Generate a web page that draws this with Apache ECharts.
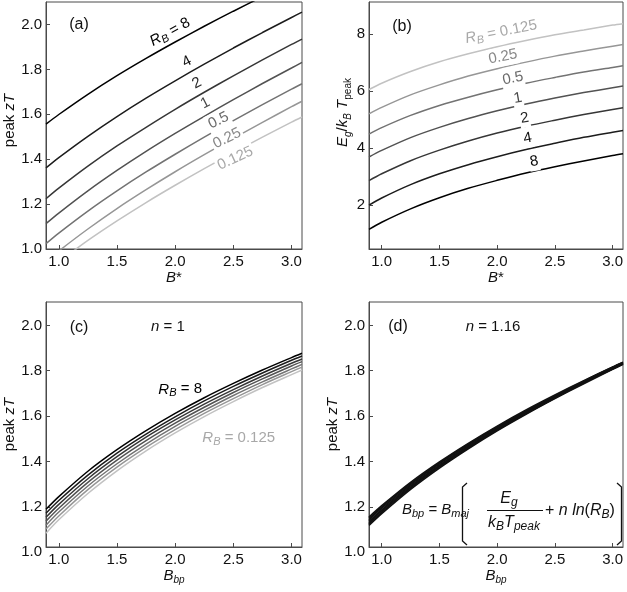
<!DOCTYPE html>
<html><head><meta charset="utf-8">
<script src="https://cdn.jsdelivr.net/npm/echarts@6/dist/echarts.min.js"></script>
<style>html,body{margin:0;padding:0;background:#fff}#c{width:627px;height:592px}</style>
</head><body><div id="c"></div>
<script>
// ---- data ----
const xB = [0.89, 1.0, 1.25, 1.5, 1.75, 2.0, 2.25, 2.5, 2.75, 3.0, 3.09];
const rbNames = ['8', '4', '2', '1', '0.5', '0.25', '0.125'];
const xTicks = [1.0, 1.5, 2.0, 2.5, 3.0];
const zTTicks = [1.0, 1.2, 1.4, 1.6, 1.8, 2.0];
const zTTicksCD = [1.2, 1.4, 1.6, 1.8, 2.0];
const egTicks = [2, 4, 6, 8];

// (a) peak zT vs B*
const a_rb8    = [1.556, 1.599, 1.689, 1.772, 1.849, 1.922, 1.992, 2.059, 2.124, 2.188, 2.210];
const a_rb4    = [1.361, 1.407, 1.502, 1.590, 1.672, 1.749, 1.823, 1.895, 1.964, 2.031, 2.055];
const a_rb2    = [1.224, 1.271, 1.369, 1.459, 1.542, 1.622, 1.698, 1.771, 1.842, 1.911, 1.935];
const a_rb1    = [1.113, 1.160, 1.259, 1.350, 1.435, 1.515, 1.591, 1.665, 1.737, 1.806, 1.831];
const a_rb05   = [1.024, 1.071, 1.169, 1.259, 1.343, 1.422, 1.498, 1.572, 1.643, 1.712, 1.736];
const a_rb025  = [0.944, 0.991, 1.089, 1.180, 1.264, 1.344, 1.420, 1.493, 1.564, 1.634, 1.658];
const a_rb0125 = [0.897, 0.942, 1.038, 1.125, 1.207, 1.284, 1.358, 1.429, 1.498, 1.565, 1.588];

// (b) Eg/kBTpeak vs B*
const b_rb8    = [1.14, 1.39, 1.86, 2.25, 2.58, 2.86, 3.12, 3.34, 3.54, 3.73, 3.79];
const b_rb4    = [1.99, 2.24, 2.71, 3.09, 3.41, 3.69, 3.94, 4.16, 4.37, 4.55, 4.61];
const b_rb2    = [2.85, 3.09, 3.55, 3.92, 4.24, 4.52, 4.76, 4.97, 5.17, 5.35, 5.41];
const b_rb1    = [3.68, 3.91, 4.36, 4.72, 5.03, 5.30, 5.54, 5.75, 5.94, 6.11, 6.17];
const b_rb05   = [4.48, 4.71, 5.14, 5.49, 5.78, 6.04, 6.27, 6.47, 6.66, 6.82, 6.88];
const b_rb025  = [5.19, 5.42, 5.86, 6.21, 6.52, 6.78, 7.01, 7.22, 7.40, 7.57, 7.63];
const b_rb0125 = [6.05, 6.27, 6.68, 7.02, 7.30, 7.55, 7.77, 7.97, 8.14, 8.31, 8.36];

// (c) peak zT vs Bbp, n = 1
const c_rb8    = [1.189, 1.245, 1.357, 1.452, 1.536, 1.612, 1.681, 1.744, 1.803, 1.858, 1.877];
const c_rb4    = [1.172, 1.228, 1.340, 1.437, 1.521, 1.597, 1.667, 1.731, 1.790, 1.846, 1.865];
const c_rb2    = [1.154, 1.211, 1.324, 1.421, 1.507, 1.583, 1.653, 1.717, 1.777, 1.833, 1.852];
const c_rb1    = [1.137, 1.194, 1.308, 1.406, 1.492, 1.569, 1.639, 1.704, 1.764, 1.821, 1.840];
const c_rb05   = [1.119, 1.177, 1.292, 1.390, 1.477, 1.555, 1.625, 1.691, 1.751, 1.808, 1.828];
const c_rb025  = [1.102, 1.160, 1.276, 1.375, 1.462, 1.540, 1.612, 1.677, 1.739, 1.796, 1.816];
const c_rb0125 = [1.084, 1.143, 1.259, 1.359, 1.447, 1.526, 1.598, 1.664, 1.726, 1.783, 1.803];

// (d) peak zT vs Bbp, n = 1.16
const d_rb8    = [1.155, 1.205, 1.308, 1.398, 1.480, 1.556, 1.627, 1.693, 1.756, 1.817, 1.838];
const d_rb4    = [1.149, 1.200, 1.303, 1.394, 1.476, 1.552, 1.623, 1.690, 1.754, 1.815, 1.836];
const d_rb2    = [1.143, 1.194, 1.298, 1.390, 1.473, 1.549, 1.621, 1.688, 1.752, 1.814, 1.835];
const d_rb1    = [1.136, 1.187, 1.292, 1.384, 1.468, 1.545, 1.617, 1.685, 1.750, 1.811, 1.833];
const d_rb05   = [1.130, 1.182, 1.287, 1.380, 1.464, 1.542, 1.614, 1.682, 1.747, 1.809, 1.831];
const d_rb025  = [1.124, 1.176, 1.282, 1.376, 1.460, 1.538, 1.611, 1.680, 1.746, 1.808, 1.830];
const d_rb0125 = [1.118, 1.170, 1.277, 1.371, 1.456, 1.535, 1.608, 1.677, 1.743, 1.806, 1.828];

// ---- styling ----
const FONT = '"Liberation Sans", Arial, Helvetica, sans-serif';
const shades = ['#000000', '#1c1c1c', '#363636', '#525252', '#737373', '#969696', '#c2c2c2'];
const labelShades = ['#000000', '#111111', '#2a2a2a', '#4a4a4a', '#6a6a6a', '#888888', '#a8a8a8'];
const AX = '#4a4a4a';
const rich = {
  r: {fontFamily: FONT, fontSize: 15, color: '#111', lineHeight: 19},
  i: {fontFamily: FONT, fontSize: 15, color: '#111', fontStyle: 'italic', lineHeight: 19},
  s: {fontFamily: FONT, fontSize: 10, color: '#111', fontStyle: 'italic', lineHeight: 10, verticalAlign: 'bottom'},
  sr: {fontFamily: FONT, fontSize: 10, color: '#111', lineHeight: 10, verticalAlign: 'bottom'}
};

const grids = [
  {left: 46, top: 2, width: 256, height: 247},
  {left: 369, top: 2, width: 254, height: 247},
  {left: 46, top: 302, width: 256, height: 245},
  {left: 369, top: 302, width: 254, height: 245}
].map(g => Object.assign(g, {show: true, borderColor: AX, borderWidth: 1, containLabel: false}));

function xAx(i, name, gap) {
  return {
    type: 'value', gridIndex: i, min: 0.89, max: 3.09,
    axisLine: {show: true, onZero: false, lineStyle: {color: AX, width: 1}},
    axisTick: {show: true, inside: true, length: 4, customValues: xTicks, lineStyle: {color: AX}},
    axisLabel: {customValues: xTicks, formatter: v => v.toFixed(1), color: '#111', fontSize: 15, fontFamily: FONT, margin: 5},
    splitLine: {show: false},
    name: name, nameLocation: 'middle', nameGap: gap,
    nameTextStyle: {rich: rich}
  };
}
function yAx(i, min, max, ticks, fmt, name, gap, shift) {
  return {
    type: 'value', gridIndex: i, min: min, max: max,
    axisLine: {show: true, onZero: false, lineStyle: {color: AX, width: 1}},
    axisTick: {show: true, inside: true, length: 4, customValues: ticks, lineStyle: {color: AX}},
    axisLabel: {customValues: ticks, formatter: fmt, color: '#111', fontSize: 15, fontFamily: FONT, margin: 4},
    splitLine: {show: false},
    name: name, nameLocation: 'middle', nameGap: gap,
    nameTextStyle: {rich: rich, padding: [0, 0, 0, shift]}
  };
}

const panels = [
  [a_rb8, a_rb4, a_rb2, a_rb1, a_rb05, a_rb025, a_rb0125],
  [b_rb8, b_rb4, b_rb2, b_rb1, b_rb05, b_rb025, b_rb0125],
  [c_rb8, c_rb4, c_rb2, c_rb1, c_rb05, c_rb025, c_rb0125],
  [d_rb8, d_rb4, d_rb2, d_rb1, d_rb05, d_rb025, d_rb0125]
];
const series = [];
panels.forEach((curves, p) => {
  curves.forEach((vals, k) => {
    series.push({
      type: 'line', name: 'RB=' + rbNames[k], xAxisIndex: p, yAxisIndex: p,
      data: xB.map((x, j) => [x, vals[j]]),
      showSymbol: false, smooth: 0.3, clip: true,
      lineStyle: {color: p === 3 ? '#111' : shades[k], width: p === 3 ? 1.6 : 1.5},
      z: 2 + (p === 1 ? k : 6 - k), silent: true
    });
  });
});

const f1 = v => v.toFixed(1);
const chart = echarts.init(document.getElementById('c'), null, {renderer: 'canvas'});
chart.setOption({
  animation: false,
  backgroundColor: '#fff',
  grid: grids,
  xAxis: [xAx(0, '{i|B}{r|*}', 19), xAx(1, '{i|B}{r|*}', 19), xAx(2, '{i|B}{s|bp}', 18), xAx(3, '{i|B}{s|bp}', 18)],
  yAxis: [
    yAx(0, 1.0, 2.1, zTTicks, f1, '{r|peak }{i|zT}', 27, 10),
    yAx(1, 0.45, 9.12, egTicks, v => String(v), '{i|E}{s|g}{r|/}{i|k}{s|B}{i| T}{sr|peak}', 15, 26),
    yAx(2, 1.023, 2.103, zTTicksCD, f1, '{r|peak }{i|zT}', 27, 0),
    yAx(3, 1.023, 2.103, zTTicksCD, f1, '{r|peak }{i|zT}', 27, 0)
  ],
  series: series
});

// ---- annotations ----
const g = [];
function px(p, x, y) { return chart.convertToPixel({gridIndex: p}, [x, y]); }
function txt(pos, text, opts) {
  g.push(Object.assign({
    type: 'text', x: pos[0], y: pos[1], silent: true, z: 50,
    style: Object.assign({text: text, fontFamily: FONT, fontSize: 15, fill: '#111', align: 'center', verticalAlign: 'middle'}, opts && opts.style || {})
  }, opts && opts.el || {}));
}
function richFor(color, size) {
  const sz = size || 15;
  return {
    r: {fontFamily: FONT, fontSize: sz, fill: color, lineHeight: sz + 4},
    i: {fontFamily: FONT, fontSize: sz, fill: color, fontStyle: 'italic', lineHeight: sz + 4},
    s: {fontFamily: FONT, fontSize: sz - 4, fill: color, fontStyle: 'italic', lineHeight: sz - 4, verticalAlign: 'bottom'}
  };
}

// panel letters
txt([79, 25], '(a)', {style: {fontSize: 16}});
txt([402, 27], '(b)', {style: {fontSize: 16}});
txt([79, 328], '(c)', {style: {fontSize: 16}});
txt([398, 327], '(d)', {style: {fontSize: 16}});
txt([168, 327], '{i|n}{r| = 1}', {style: {rich: richFor('#111', 15)}});
txt([493, 327], '{i|n}{r| = 1.16}', {style: {rich: richFor('#111', 15)}});

// curve labels panel (a)
const aLab = [[1.955, 1.966, '{i|R}{s|B}{r| = 8}', -29], [2.10, 1.834, '{r|4}', -27], [2.187, 1.738, '{r|2}', -27],
  [2.259, 1.649, '{r|1}', -27], [2.373, 1.572, '{r|0.5}', -26], [2.446, 1.493, '{r|0.25}', -26], [2.517, 1.404, '{r|0.125}', -25]];
aLab.forEach((l, k) => {
  const p = px(0, l[0], l[1]);
  txt(p, l[2], {style: {rich: richFor(labelShades[k], 15), backgroundColor: k >= 4 ? '#fff' : 'transparent', padding: [0, 2]}, el: {rotation: -l[3] * Math.PI / 180}});
});
// curve labels panel (b)
const bLab = [[2.32, 3.52, '{r|8}', -10], [2.265, 4.34, '{r|4}', -10], [2.237, 5.04, '{r|2}', -10], [2.18, 5.74, '{r|1}', -10],
  [2.136, 6.44, '{r|0.5}', -11], [2.05, 7.20, '{r|0.25}', -11], [2.035, 8.07, '{i|R}{s|B}{r| = 0.125}', -11]];
bLab.forEach((l, k) => {
  const p = px(1, l[0], l[1]);
  txt(p, l[2], {style: {rich: richFor(labelShades[k], 15), backgroundColor: '#fff', padding: [0, 1]}, el: {rotation: -l[3] * Math.PI / 180}});
});
// panel (c) labels
txt(px(2, 2.043, 1.718), '{i|R}{s|B}{r| = 8}', {style: {rich: richFor('#000', 15)}});
txt(px(2, 2.546, 1.504), '{i|R}{s|B}{r| = 0.125}', {style: {rich: richFor('#a8a8a8', 15)}});

// "1.0" tick label below the panels (c) and (d)
[2, 3].forEach(p => {
  const yv = chart.convertToPixel({yAxisIndex: p}, 1.0);
  const xl = grids[p].left - 4;
  txt([xl, yv], '1.0', {style: {align: 'right', fontSize: 15}});
});

// formula in panel (d)
const fr = richFor('#111', 16);
const frl = richFor('#111', 15);
txt([402, 510], '{i|B}{s|bp}{r| = }{i|B}{s|maj}', {style: {rich: frl, align: 'left'}});
txt([509, 499], '{i|E}{s|g}', {style: {rich: fr}});
txt([514, 523], '{i|k}{s|B}{i|T}{s|peak}', {style: {rich: fr}});
txt([545, 511], '{r|+ }{i|n ln}{r|(}{i|R}{s|B}{r|)}', {style: {rich: fr, align: 'left'}});
g.push({type: 'line', silent: true, z: 50, shape: {x1: 487, y1: 510.5, x2: 543, y2: 510.5}, style: {stroke: '#111', lineWidth: 1}});
g.push({type: 'polyline', silent: true, z: 50, shape: {points: [[467, 483], [462.5, 487], [462.5, 541], [467, 545]]}, style: {stroke: '#111', lineWidth: 1.3, fill: null}});
g.push({type: 'polyline', silent: true, z: 50, shape: {points: [[617, 483], [621.5, 487], [621.5, 541], [617, 545]]}, style: {stroke: '#111', lineWidth: 1.3, fill: null}});

chart.setOption({graphic: g});
</script></body></html>
